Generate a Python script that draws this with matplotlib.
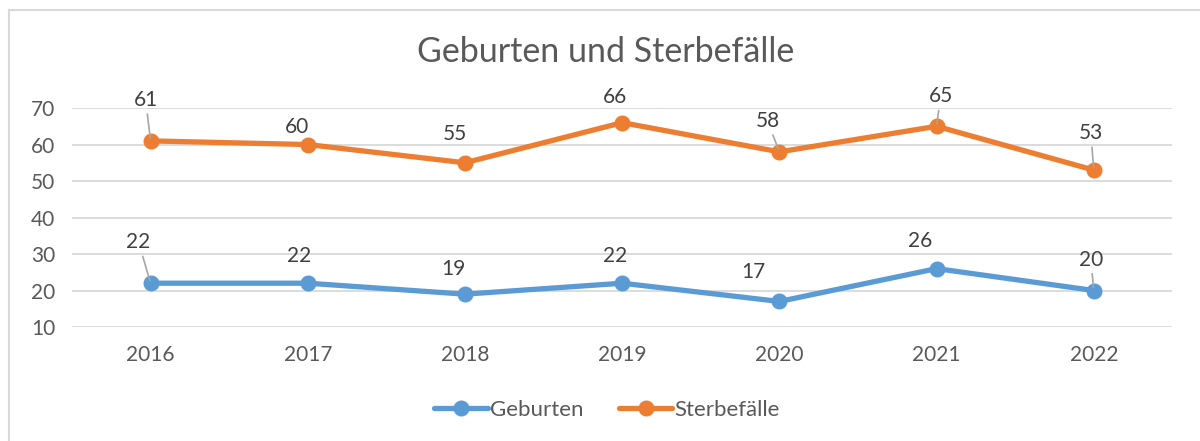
import matplotlib.pyplot as plt
from matplotlib.lines import Line2D

# Daten
jahre = ['2016', '2017', '2018', '2019', '2020', '2021', '2022']
geburten = [22, 22, 19, 22, 17, 26, 20]
sterbefaelle = [61, 60, 55, 66, 58, 65, 53]

# Label-Versatz in Pixeln (dx, dy) und ob eine Führungslinie gezeichnet wird
versatz_geburten = [(-12, 41), (-9, 27), (-12, 25), (-7, 27), (-26, 29), (-16, 28), (-3, 31)]
linie_geburten = [True, False, False, False, False, False, True]
versatz_sterbe = [(-5, 41), (-11, 18), (-10, 29), (-7, 26), (-12, 31), (4, 30), (-3, 37)]
linie_sterbe = [True, False, False, False, True, True, True]

BLAU = '#5B9BD5'
ORANGE = '#ED7D31'
GRAU = '#595959'

plt.rcParams['font.family'] = ['Lato', 'DejaVu Sans']

fig = plt.figure(figsize=(12, 4.41), dpi=100)
ax = fig.add_axes([0.06, 0.2585, 0.917, 0.4965])

x = list(range(len(jahre)))
ax.plot(x, geburten, color=BLAU, lw=3.8, marker='o', markersize=10.5,
        solid_capstyle='round', label='Geburten', zorder=3)
ax.plot(x, sterbefaelle, color=ORANGE, lw=3.8, marker='o', markersize=10.5,
        solid_capstyle='round', label='Sterbefälle', zorder=3)


def beschriften(werte, versatz, linien):
    for i, v in enumerate(werte):
        arrow = None
        if linien[i]:
            arrow = dict(arrowstyle='-', color='#a6a6a6', lw=1.2,
                         shrinkA=1, shrinkB=2)
        ax.annotate(str(v), (i, v), xytext=versatz[i], textcoords='offset pixels',
                    ha='center', va='center', fontsize=15, color='#404040',
                    arrowprops=arrow, zorder=4)


beschriften(geburten, versatz_geburten, linie_geburten)
beschriften(sterbefaelle, versatz_sterbe, linie_sterbe)

ax.set_xlim(-0.5, len(jahre) - 0.5)
ax.set_ylim(10, 70)
ax.set_yticks(range(10, 71, 10))
ax.set_xticks(x)
ax.set_xticklabels(jahre)
ax.grid(axis='y', color='#d9d9d9', lw=1.3)
ax.set_axisbelow(True)
for s in ax.spines.values():
    s.set_visible(False)
ax.tick_params(length=0, labelsize=15, labelcolor=GRAU)
ax.tick_params(axis='x', pad=13)
ax.tick_params(axis='y', pad=12)

fig.text(0.505, 0.882, 'Geburten und Sterbefälle', ha='center', va='center',
         fontsize=24.5, color=GRAU)

leg = fig.legend(loc='center', bbox_to_anchor=(0.506, 0.07), ncol=2, frameon=False,
                 fontsize=16, handlelength=2.4, columnspacing=1.6, handletextpad=0.1)
for t in leg.get_texts():
    t.set_color(GRAU)

# Rahmen
fig.add_artist(Line2D([8.5 / 1200, 8.5 / 1200], [0, 1 - 9.5 / 441],
                      color='#d9d9d9', lw=1.5, transform=fig.transFigure))
fig.add_artist(Line2D([8.5 / 1200, 1], [1 - 9.5 / 441, 1 - 9.5 / 441],
                      color='#d9d9d9', lw=1.5, transform=fig.transFigure))

fig.savefig('out.png', dpi=100, facecolor='white')
